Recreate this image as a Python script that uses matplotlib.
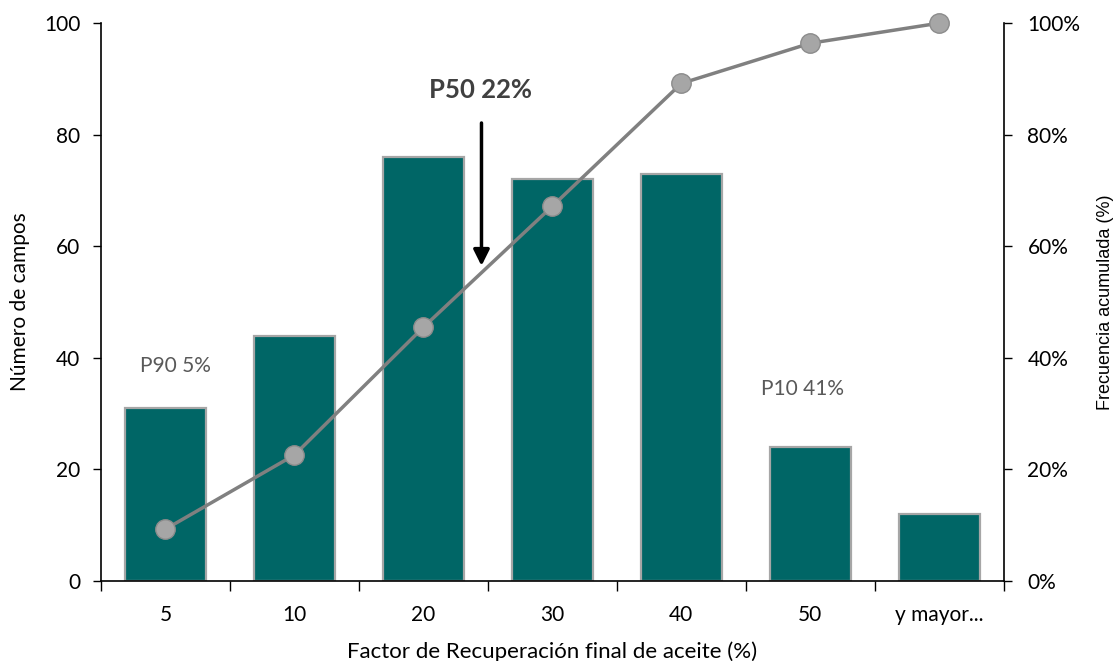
import matplotlib
matplotlib.use("Agg")
import matplotlib.pyplot as plt
from matplotlib.ticker import PercentFormatter
import numpy as np

plt.rcParams['font.family'] = ['Lato', 'DejaVu Sans']

categories = ["5", "10", "20", "30", "40", "50", "y mayor..."]
counts = [31, 44, 76, 72, 73, 24, 12]
cum_pct = [9.3, 22.6, 45.5, 67.2, 89.2, 96.4, 100.0]

bar_color = "#006666"
bar_edge = "#a6a6a6"
line_color = "#808080"
marker_color = "#a6a6a6"

fig = plt.figure(figsize=(11.16, 6.61), dpi=100)
ax = fig.add_axes([0.0905, 0.121, 0.809, 0.844])
x = np.arange(len(categories))

ax.bar(x, counts, width=0.63, color=bar_color, edgecolor=bar_edge, linewidth=1.6, zorder=2)
ax.set_xlim(-0.5, len(categories) - 0.5)
ax.set_ylim(0, 100)
ax.set_yticks([0, 20, 40, 60, 80, 100])
ax.set_xticks(x)
ax.set_xticklabels(categories)
ax.tick_params(axis='x', length=0, pad=17, labelsize=15)
ax.set_xticks(np.arange(-0.5, len(categories), 1.0), minor=True)
ax.tick_params(axis='x', which='minor', length=7, width=1, color='black', direction='out')
ax.tick_params(axis='y', length=6, width=1, direction='out', labelsize=15, pad=9)
ax.spines['top'].set_visible(False)
ax.spines['right'].set_visible(False)
for s in ('left', 'bottom'):
    ax.spines[s].set_linewidth(1.2)
ax.set_ylabel("Número de campos", fontsize=15, labelpad=10)
ax.set_xlabel("Factor de Recuperación final de aceite (%)", fontsize=16, labelpad=12)

ax2 = ax.twinx()
ax2.set_ylim(0, 100)
ax2.plot(x, cum_pct, color=line_color, linewidth=2.5, marker='o', markersize=14,
         markerfacecolor=marker_color, markeredgecolor="#8c8c8c", markeredgewidth=1,
         zorder=3, clip_on=False)
ax2.set_yticks([0, 20, 40, 60, 80, 100])
ax2.yaxis.set_major_formatter(PercentFormatter(decimals=0))
ax2.tick_params(axis='y', length=6, width=1, direction='out', labelsize=15, pad=11)
ax2.spines['top'].set_visible(False)
ax2.spines['left'].set_visible(False)
ax2.spines['bottom'].set_visible(False)
ax2.spines['right'].set_linewidth(1.2)
ax2.set_ylabel("Frecuencia acumulada (%)", fontsize=13, labelpad=12,
               family=['Liberation Sans', 'DejaVu Sans'])

# Percentile annotations
ax.annotate("", xy=(2.45, 56.0), xytext=(2.45, 82.6),
            arrowprops=dict(arrowstyle="-|>", color="black", lw=2.5, mutation_scale=24))
ax.text(2.44, 88.0, "P50 22%", ha='center', va='center', fontsize=18.5, fontweight='bold', color="#404040")
ax.text(0.08, 38.5, "P90 5%", ha='center', va='center', fontsize=15, color="#595959")
ax.text(4.94, 34.4, "P10 41%", ha='center', va='center', fontsize=15, color="#595959")

fig.savefig("out.png", dpi=100)
